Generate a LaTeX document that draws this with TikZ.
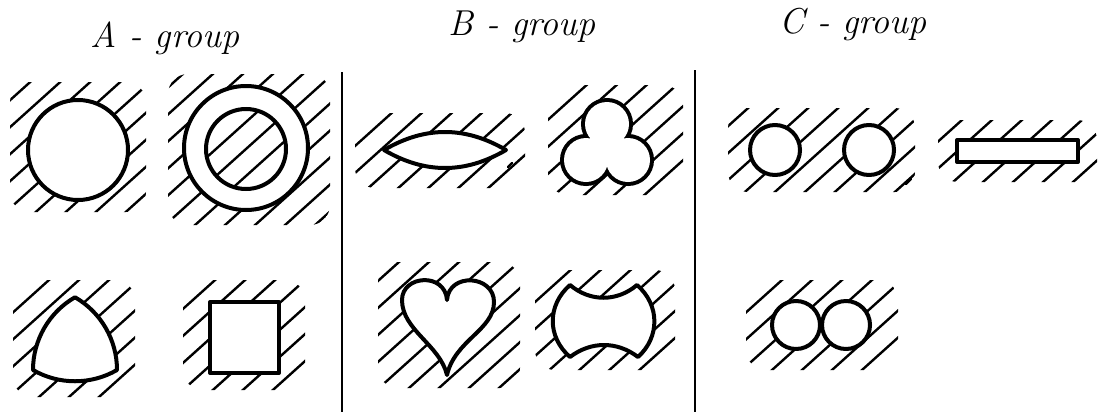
\documentclass[tikz,border=0pt]{standalone}
\usepackage{tikz}
\usetikzlibrary{calc}
\tikzset{
  outline/.style={line width=2pt,draw=black,fill=white,line join=round},
  hatchline/.style={line width=1.2pt,line cap=round},
  divider/.style={line width=1pt},
  grouplabel/.style={font=\fontsize{18}{21}\selectfont\itshape,inner sep=0pt,anchor=base},
}
% hatched patch around a cut: corners (x1,y1) (x2,y2) in pixels
\newcommand\hatcharea[4]{%
  \begin{scope}
    \clip[rounded corners=10pt] (#1,#2) rectangle (#3,#4);
    \foreach \k in {-9,...,9}
      \draw[hatchline] ({(#1+#3)/2+\k*30-100},{(#2+#4)/2+90}) -- ++(200,-180);
  \end{scope}}

\begin{document}
\begin{tikzpicture}[x=0.5pt,y=-0.5pt]
  \useasboundingbox (0,0) rectangle (1111,412);

  % group titles
  \node[grouplabel] (labA) at (165,47) {A - group};
  \node[grouplabel] (labB) at (522,35) {B - group};
  \node[grouplabel] (labC) at (853,33) {C - group};

  % dividers
  \coordinate (divAtop) at (342,72);  \coordinate (divAbot) at (342,412);
  \coordinate (divBtop) at (695,70);  \coordinate (divBbot) at (695,412);
  \draw[divider] (divAtop) -- (divAbot);
  \draw[divider] (divBtop) -- (divBbot);

  % A-group
  \hatcharea{10}{82}{146}{212}
  \draw[outline] (78,150) circle (50);

  \hatcharea{168}{74}{330}{225}
  \draw[outline] (246,148) circle (62);
  \begin{scope}
    \clip (246,149) circle (40);
    \foreach \k in {-5,...,5}
      \draw[hatchline] ({246+\k*30-100},{149+90}) -- ++(200,-180);
  \end{scope}
  \draw[line width=2pt] (246,149) circle (40);

  \hatcharea{13}{280}{135}{397}
  \draw[outline] (33,370) arc[start angle=180,end angle=240,radius=84]
    arc[start angle=300,end angle=360,radius=84]
    arc[start angle=60,end angle=120,radius=84] -- cycle;

  \hatcharea{183}{280}{305}{390}
  \draw[outline] (210,302) rectangle (279,373);

  % B-group
  \hatcharea{355}{113}{525}{188}
  \draw[hatchline] (508,167) -- (512,163);
  \draw[outline] (384,150) .. controls (425,126) and (465,126) .. (506,150)
    .. controls (465,174) and (425,174) .. (384,150) -- cycle;

  \hatcharea{548}{85}{683}{195}
  \draw[line width=4pt] (607,124) circle (22) (586,160) circle (22) (628,160) circle (22);
  \fill[white] (607,124) circle (22) (586,160) circle (22) (628,160) circle (22);
  \fill[white] (607,124) -- (586,160) -- (628,160) -- cycle;

  \hatcharea{378}{262}{520}{388}
  \draw[outline] (447,375) .. controls (440,345) and (402,330) .. (402,300)
    .. controls (402,275) and (445,272) .. (447,300)
    .. controls (449,272) and (494,275) .. (494,302)
    .. controls (494,330) and (455,340) .. (447,375) -- cycle;

  \hatcharea{535}{270}{675}{370}
  \draw[outline] (570,285) .. controls (590,302) and (617,302) .. (637,285)
    .. controls (660,305) and (660,337) .. (638,357)
    .. controls (617,341) and (591,341) .. (570,357)
    .. controls (547,337) and (547,305) .. (570,285) -- cycle;

  % C-group
  \hatcharea{728}{108}{915}{192}
  \draw[hatchline] (906,184) -- (911,179);
  \draw[outline] (775,150) circle (25);
  \draw[outline] (869,150) circle (25);

  \hatcharea{938}{120}{1097}{182}
  \draw[outline] (957,140) rectangle (1078,162);

  \hatcharea{746}{280}{898}{370}
  \draw[outline] (796,325) circle (24);
  \draw[outline] (846,325) circle (24);
\end{tikzpicture}
\end{document}
